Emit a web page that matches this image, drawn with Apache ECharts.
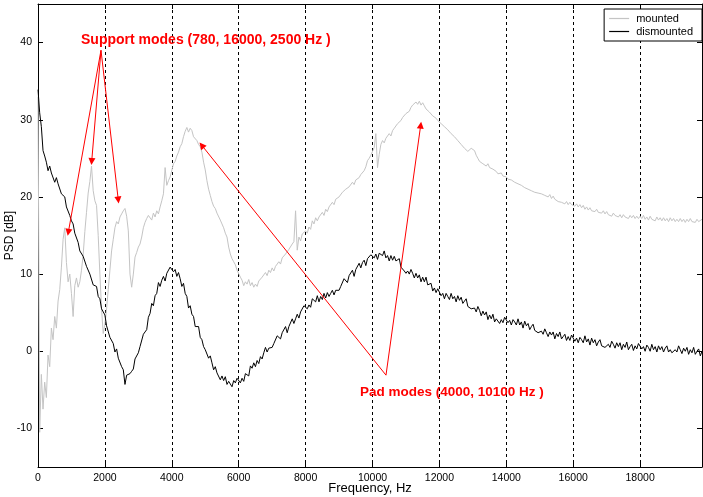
<!DOCTYPE html>
<html>
<head>
<meta charset="utf-8">
<script src="https://cdn.jsdelivr.net/npm/echarts@6/dist/echarts.min.js"></script>
<style>
html,body{margin:0;padding:0;background:#fff;}
#chart{width:703px;height:497px;}
</style>
</head>
<body>
<div id="chart"></div>
<script>
// ---- DATA ----
const FREQ_STEP_HZ = 50; // spectral line spacing of the PSD estimate
const seriesNames = ['mounted', 'dismounted'];
const xTickLabels = [0, 2000, 4000, 6000, 8000, 10000, 12000, 14000, 16000, 18000];
const yTickLabels = [-10, 0, 10, 20, 30, 40];

const dismountedPSD = [
  33.9, 30.9, 29.1, 26.0, 25.3, 24.5, 23.4, 24.0, 23.1, 23.0, 21.9, 22.5, 21.7, 21.6, 20.4, 20.2, 20.0, 18.7, 18.6, 17.6,
  16.9, 16.5, 15.3, 15.3, 14.1, 13.0, 13.2, 12.3, 12.3, 11.0, 11.2, 10.0, 9.9, 8.6, 8.6, 8.4, 7.1, 6.8, 5.5, 5.4,
  4.7, 3.3, 3.1, 1.8, 2.0, 1.0, -0.1, 0.3, -0.9, -0.9, -2.0, -2.4, -4.3, -3.1, -3.1, -2.9, -2.6, -2.3, -1.0, -0.8,
  -0.2, 0.6, 0.7, 2.2, 2.5, 2.8, 4.4, 4.9, 6.2, 5.9, 7.2, 7.5, 8.9, 8.4, 9.2, 9.7, 9.1, 10.1, 10.0, 10.9,
  11.1, 10.3, 10.6, 9.7, 10.2, 9.4, 8.4, 8.8, 7.5, 7.1, 5.6, 5.9, 4.8, 4.5, 3.2, 3.3, 3.2, 1.8, 1.5, 0.6,
  0.2, 0.0, -0.9, -0.6, -1.5, -2.4, -2.0, -2.8, -2.6, -3.7, -3.2, -3.8, -3.3, -4.3, -3.9, -3.7, -4.6, -3.8, -4.1, -3.5,
  -3.6, -4.1, -3.5, -3.9, -2.9, -3.0, -3.2, -1.9, -2.2, -1.5, -2.0, -1.2, -1.6, -0.7, -1.0, -0.2, 0.5, -0.1, 0.4, 0.2,
  0.5, 1.0, 0.9, 2.0, 2.0, 1.6, 2.4, 2.4, 3.2, 2.4, 3.2, 3.2, 4.2, 3.6, 4.2, 4.8, 4.3, 5.1, 4.9, 5.9,
  6.1, 5.5, 6.0, 5.7, 6.8, 6.7, 6.4, 7.2, 6.4, 7.1, 6.7, 7.5, 6.9, 7.6, 7.1, 7.5, 7.9, 7.3, 7.9, 7.7,
  7.9, 8.4, 8.3, 9.4, 9.3, 8.9, 9.8, 9.7, 10.5, 9.7, 10.6, 10.4, 11.4, 10.8, 11.5, 11.8, 11.1, 12.0, 11.8, 12.5,
  12.6, 12.1, 12.6, 11.9, 12.7, 12.6, 12.4, 13.0, 12.1, 12.4, 11.7, 12.4, 11.8, 12.3, 11.7, 11.9, 12.0, 10.9, 11.0, 10.4,
  10.1, 10.4, 10.0, 10.6, 10.1, 9.5, 10.1, 9.5, 9.9, 9.0, 9.6, 9.0, 9.6, 8.6, 8.8, 8.8, 7.8, 8.2, 7.6, 8.1,
  7.9, 7.2, 7.5, 6.8, 7.5, 7.1, 6.7, 7.5, 6.8, 7.1, 6.4, 7.2, 6.6, 7.0, 6.2, 6.5, 6.8, 5.8, 6.0, 5.5,
  5.4, 5.6, 5.1, 5.8, 5.3, 4.6, 5.2, 4.7, 5.1, 4.1, 4.7, 4.2, 4.8, 3.8, 4.2, 4.4, 3.6, 4.1, 3.7, 4.4,
  4.4, 3.7, 4.0, 3.4, 4.1, 3.8, 3.4, 4.2, 3.4, 3.8, 3.0, 3.9, 3.3, 3.6, 2.8, 3.2, 3.5, 2.7, 2.9, 2.4,
  2.3, 2.6, 2.2, 2.9, 2.4, 1.9, 2.5, 2.1, 2.5, 1.6, 2.3, 1.9, 2.5, 1.6, 1.9, 2.2, 1.4, 1.9, 1.4, 2.1,
  2.0, 1.3, 1.7, 1.1, 1.8, 1.5, 1.1, 2.0, 1.2, 1.6, 0.8, 1.7, 1.1, 1.5, 0.7, 1.2, 1.5, 0.7, 0.9, 0.5,
  0.5, 0.9, 0.5, 1.3, 0.9, 0.4, 1.1, 0.6, 1.1, 0.2, 0.9, 0.5, 1.2, 0.2, 0.6, 0.9, 0.1, 0.7, 0.3, 1.0,
  1.0, 0.3, 0.6, 0.0, 0.8, 0.5, 0.0, 0.9, 0.2, 0.6, -0.1, 0.7, 0.2, 0.6, -0.1, 0.4, 0.7, -0.1, 0.2, -0.2,
  -0.2, 0.2, -0.1, 0.7, 0.2, -0.3, 0.4, 0.0, 0.5, -0.4, 0.2, -0.2, 0.5, -0.4, 0.0, 0.3, -0.6, 0.0
];

const mountedPSD = [
  33.0, -10.5, -3.0, -7.5, -4.0, -6.0, -0.5, -2.0, 3.0, 1.5, 4.5, 3.0, 6.5, 8.0, 10.9, 14.5, 16.0, 11.5, 9.0, 10.0,
  7.5, 4.5, 8.5, 9.5, 8.3, 9.0, 10.5, 12.5, 15.5, 18.0, 20.5, 22.0, 24.0, 20.8, 19.5, 18.9, 15.0, 10.0, 5.5, 2.3,
  3.5, 5.5, 8.0, 10.5, 13.0, 14.5, 16.0, 16.8, 16.5, 17.4, 17.8, 18.2, 18.5, 17.5, 15.6, 10.0, 8.3, 10.0, 12.2, 12.8,
  13.5, 13.9, 14.8, 16.0, 16.7, 17.2, 17.6, 17.8, 17.0, 17.9, 17.4, 18.2, 17.8, 18.7, 19.5, 20.4, 23.8, 21.5, 22.1, 22.6,
  22.5, 24.3, 24.6, 25.3, 25.8, 26.5, 26.9, 27.8, 28.5, 29.0, 28.4, 28.9, 28.6, 27.8, 27.9, 27.3, 26.8, 26.5, 25.8, 24.5,
  23.5, 22.1, 21.0, 20.2, 19.4, 18.8, 18.5, 17.9, 17.8, 17.0, 16.5, 16.0, 15.3, 14.8, 13.5, 12.6, 12.0, 11.6, 11.2, 10.5,
  10.4, 9.6, 9.2, 8.5, 9.0, 8.7, 9.3, 8.5, 8.9, 8.3, 8.7, 8.4, 9.1, 9.0, 9.6, 9.4, 10.2, 9.8, 10.5, 10.2,
  10.8, 10.4, 11.0, 10.9, 11.6, 11.3, 12.1, 11.9, 12.6, 12.4, 13.2, 13.0, 13.9, 14.2, 18.2, 13.1, 14.8, 14.3, 15.2, 15.0,
  15.6, 15.3, 16.1, 15.8, 16.9, 16.5, 17.3, 16.9, 17.4, 17.2, 18.0, 17.6, 18.4, 18.1, 18.7, 18.5, 19.3, 19.0, 19.7, 19.6,
  20.0, 20.1, 20.6, 20.4, 21.0, 20.9, 21.3, 21.4, 21.9, 21.6, 22.2, 22.1, 22.5, 22.9, 23.1, 23.4, 23.9, 24.7, 25.0, 25.4,
  25.9, 26.4, 28.2, 23.8, 25.5, 26.8, 27.3, 27.0, 27.6, 27.8, 28.2, 27.9, 28.6, 28.9, 29.0, 29.5, 29.4, 29.9, 30.3, 30.2,
  30.8, 31.0, 31.1, 31.6, 31.9, 31.7, 32.3, 32.0, 32.4, 31.9, 32.2, 31.8, 31.4, 31.6, 31.0, 30.9, 30.5, 30.7, 30.2, 29.9,
  29.9, 29.5, 29.7, 29.1, 29.2, 28.7, 28.8, 28.2, 28.4, 27.8, 27.9, 27.3, 27.3, 26.8, 26.9, 26.3, 26.2, 25.9, 26.0, 26.3,
  26.5, 26.0, 25.4, 25.0, 24.6, 24.8, 24.3, 24.4, 24.0, 24.3, 23.8, 23.9, 23.6, 23.4, 23.3, 23.0, 22.9, 23.1, 22.7, 22.6,
  22.6, 22.3, 22.5, 22.2, 22.3, 21.9, 22.0, 21.7, 21.8, 21.5, 21.6, 21.2, 21.3, 21.0, 21.2, 20.8, 21.0, 20.6, 20.8, 20.5,
  20.7, 20.4, 20.6, 20.2, 20.4, 20.0, 20.3, 19.8, 20.1, 19.7, 19.8, 19.4, 19.6, 19.3, 19.5, 19.1, 19.4, 19.0, 19.3, 19.0,
  19.1, 18.8, 19.1, 18.7, 19.0, 18.6, 18.9, 18.4, 18.7, 18.3, 18.6, 18.2, 18.4, 18.1, 18.4, 18.0, 18.2, 17.9, 18.2, 17.8,
  18.1, 17.7, 17.9, 17.5, 17.9, 17.6, 17.8, 17.4, 17.7, 17.3, 17.7, 17.4, 17.6, 17.2, 17.6, 17.3, 17.6, 17.2, 17.5, 17.2,
  17.5, 17.2, 17.6, 17.1, 17.4, 17.0, 17.5, 17.1, 17.3, 16.9, 17.4, 17.0, 17.3, 16.9, 17.3, 16.9, 17.2, 16.8, 17.3, 16.9,
  17.2, 16.8, 17.1, 16.8, 17.2, 16.8, 17.1, 16.7, 17.1, 16.8, 17.2, 16.8, 17.0, 16.7, 17.1, 16.8, 17.0, 17.1
];

// annotation arrows: [frequency Hz, dB]
const supportArrowFrom = [1883, 39.0];
const supportArrowTips = [[906, 15.4], [1605, 24.6], [2400, 19.6]];
const padArrowFrom = [10403, -3.1];
const padArrowTips = [[4894, 26.7], [11441, 29.3]];
const supportText = 'Support modes (780, 16000, 2500 Hz )';
const padText = 'Pad modes (4000, 10100 Hz )';

// ---- CHART ----
const FONT = 'Liberation Sans, Arial, sans-serif';
const toPairs = arr => arr.map((v, i) => [i * FREQ_STEP_HZ, v]);
const X_MAX = (dismountedPSD.length - 1) * FREQ_STEP_HZ;
const plain = v => String(v);

const arrowData = []
  .concat(supportArrowTips.map(t => [{ coord: supportArrowFrom }, { coord: t }]))
  .concat(padArrowTips.map(t => [{ coord: padArrowFrom }, { coord: t }]));

const chart = echarts.init(document.getElementById('chart'), null, { renderer: 'canvas' });
chart.setOption({
  animation: false,
  backgroundColor: '#ffffff',
  textStyle: { fontFamily: FONT },
  grid: { left: 38, right: 1, top: 4, bottom: 30, containLabel: false, outerBoundsMode: 'none' },
  legend: {
    data: seriesNames,
    orient: 'vertical',
    right: 1,
    top: 9,
    padding: [3, 9, 3, 5],
    itemGap: 0,
    itemWidth: 20,
    itemHeight: 1.2,
    icon: 'rect',
    backgroundColor: '#ffffff',
    borderColor: '#000000',
    borderWidth: 1,
    borderRadius: 0,
    textStyle: { fontFamily: FONT, fontSize: 11, color: '#000', lineHeight: 13, padding: [0, 0, 0, 2] }
  },
  xAxis: [
    {
      type: 'value', position: 'bottom', min: 0, max: X_MAX, interval: 2000,
      name: 'Frequency, Hz', nameLocation: 'middle', nameGap: 15, nameMoveOverlap: false,
      nameTextStyle: { fontFamily: FONT, fontSize: 13, color: '#000' },
      axisLine: { show: true, onZero: false, lineStyle: { color: '#000', width: 1 } },
      axisTick: { show: true, inside: true, length: 5, lineStyle: { color: '#000' }, customValues: xTickLabels },
      axisLabel: { show: true, customValues: xTickLabels, formatter: plain, margin: 6, fontFamily: FONT, fontSize: 10.5, color: '#000' },
      splitLine: { show: true, lineStyle: { color: '#000', width: 1, type: [3, 3] } }
    },
    {
      type: 'value', position: 'top', min: 0, max: X_MAX, interval: 2000,
      axisLine: { show: true, onZero: false, lineStyle: { color: '#000', width: 1 } },
      axisTick: { show: true, inside: true, length: 5, lineStyle: { color: '#000' }, customValues: xTickLabels },
      axisLabel: { show: false },
      splitLine: { show: false }
    }
  ],
  yAxis: [
    {
      type: 'value', position: 'left', min: -15, max: 45,
      name: 'PSD [dB]', nameLocation: 'middle', nameGap: 22, nameMoveOverlap: false,
      nameTextStyle: { fontFamily: FONT, fontSize: 12, color: '#000' },
      axisLine: { show: true, onZero: false, lineStyle: { color: '#000', width: 1 } },
      axisTick: { show: true, inside: true, length: 5, lineStyle: { color: '#000' }, customValues: yTickLabels },
      axisLabel: { show: true, customValues: yTickLabels, formatter: plain, margin: 6, fontFamily: FONT, fontSize: 10.5, color: '#000' },
      splitLine: { show: false }
    },
    {
      type: 'value', position: 'right', min: -15, max: 45,
      axisLine: { show: true, onZero: false, lineStyle: { color: '#000', width: 1 } },
      axisTick: { show: true, inside: true, length: 5, lineStyle: { color: '#000' }, customValues: yTickLabels },
      axisLabel: { show: false },
      splitLine: { show: false }
    }
  ],
  series: [
    {
      name: seriesNames[0], type: 'line', xAxisIndex: 0, yAxisIndex: 0,
      data: toPairs(mountedPSD), showSymbol: false, symbol: 'none',
      lineStyle: { color: '#c4c4c4', width: 1 }, itemStyle: { color: '#c4c4c4' },
      silent: true, z: 2
    },
    {
      name: seriesNames[1], type: 'line', xAxisIndex: 0, yAxisIndex: 0,
      data: toPairs(dismountedPSD), showSymbol: false, symbol: 'none',
      lineStyle: { color: '#000000', width: 1 }, itemStyle: { color: '#000000' },
      silent: true, z: 3,
      markLine: {
        silent: true, animation: false,
        symbol: ['none', 'triangle'], symbolSize: 7,
        label: { show: false },
        lineStyle: { color: '#ff0000', width: 1, type: 'solid' },
        emphasis: { disabled: true },
        data: arrowData
      }
    }
  ],
  graphic: [
    {
      type: 'text', left: 81, top: 33, z: 100,
      style: { text: supportText, fill: '#ff0000', font: 'bold 14px ' + FONT }
    },
    {
      type: 'text', left: 360, top: 385, z: 100,
      style: { text: padText, fill: '#ff0000', font: 'bold 13.5px ' + FONT }
    }
  ]
});
</script>
</body>
</html>
